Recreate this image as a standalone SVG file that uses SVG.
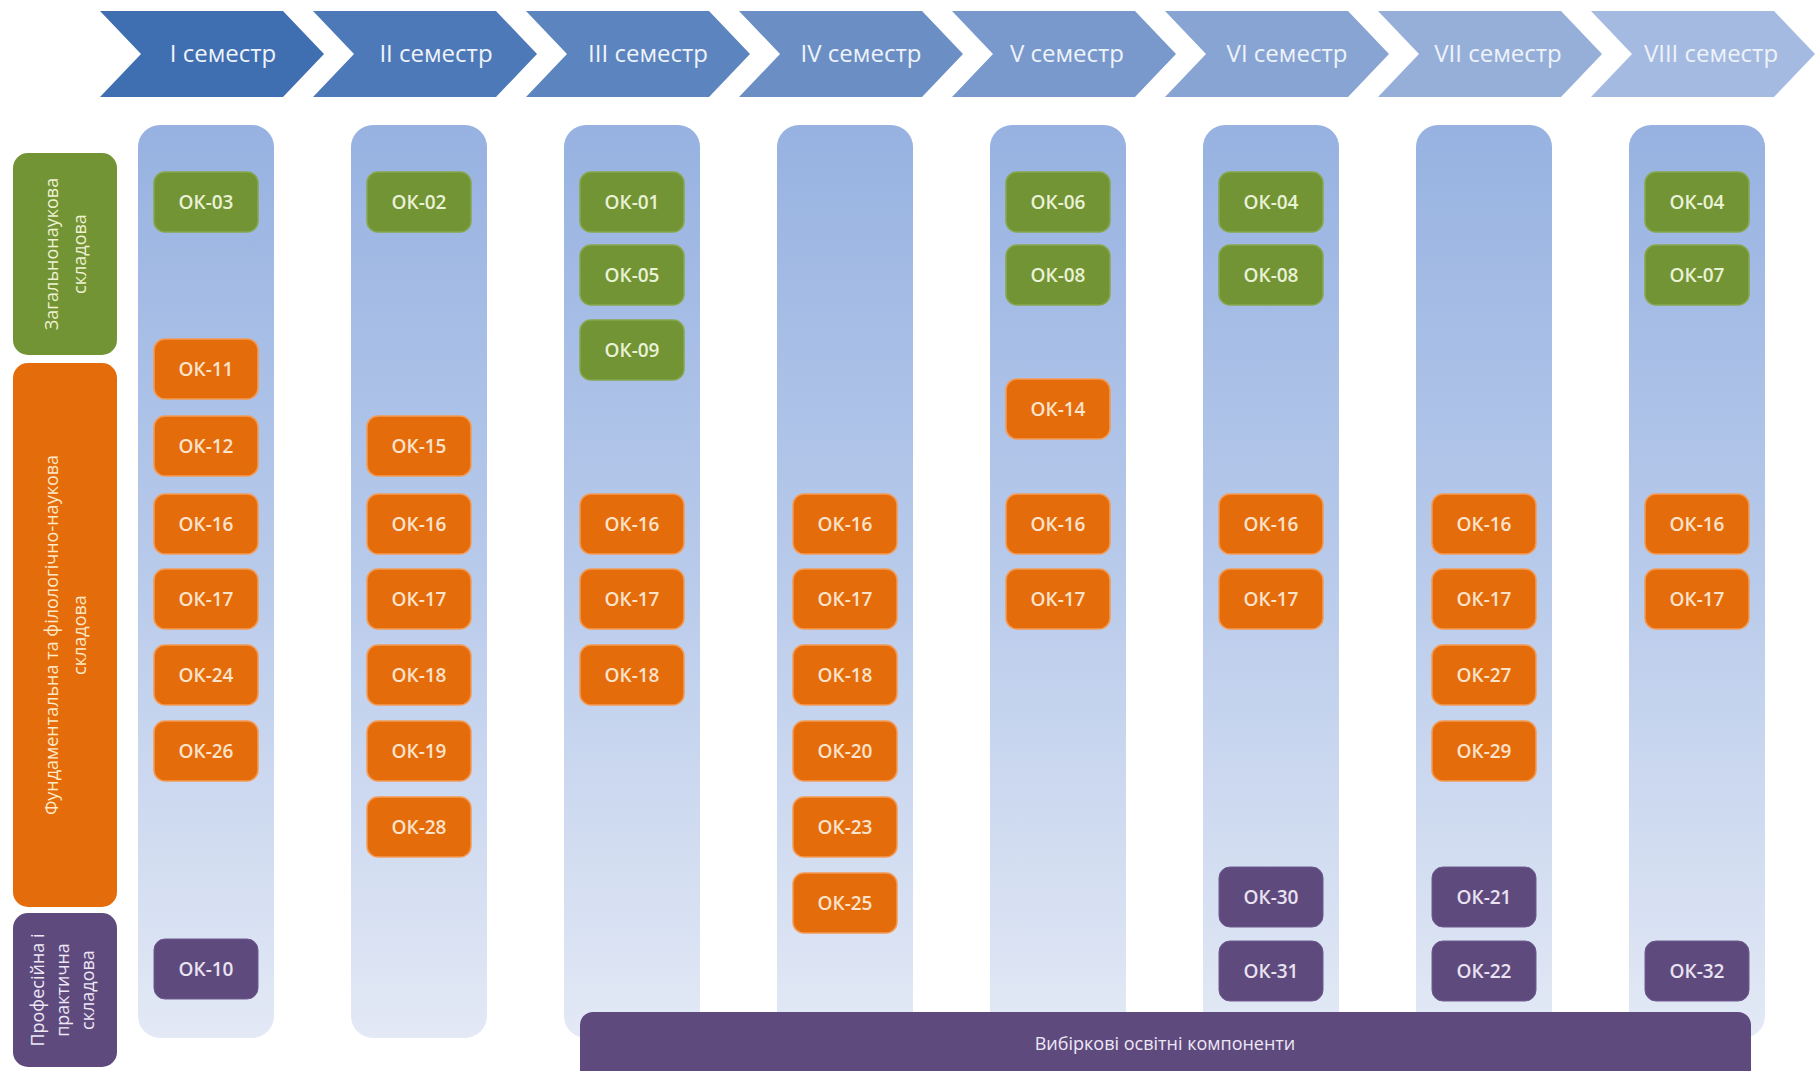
<svg xmlns="http://www.w3.org/2000/svg" width="1818" height="1071" viewBox="0 0 1818 1071">
<defs>
<linearGradient id="colg" x1="0" y1="0" x2="0" y2="1">
<stop offset="0" stop-color="#97B2E1"/>
<stop offset="0.5" stop-color="#B9CBEB"/>
<stop offset="1" stop-color="#E3E9F5"/>
</linearGradient>
<style>
.chev text{font-family:"Open Sans","Noto Sans",sans-serif;font-size:24px;fill:#EEF3FA;text-anchor:middle}
.col{fill:url(#colg)}
.b{width:104px;height:60px;rx:11px;ry:11px}
.g{fill:#739435;stroke:#86A64C;stroke-width:1.5}
.o{fill:#E56C0B;stroke:#F39A55;stroke-width:1.5}
.p{fill:#5F4A7E;stroke:#6E5A8E;stroke-width:1}
.t{font-family:"Open Sans","Noto Sans",sans-serif;font-size:19px;font-weight:600;text-anchor:middle}
.tg{fill:#EAF2D6}
.to{fill:#FCE3CC}
.tp{fill:#E9E3F1}
.lab{font-family:"Open Sans","Noto Sans",sans-serif;font-size:18px;text-anchor:middle}
</style>
</defs>
<rect width="1818" height="1071" fill="#FFFFFF"/>

<g id="semesters">
<g id="sem1" class="chev"><polygon points="100,11 283,11 324,54 283,97 100,97 141,54" fill="#3F6EB1"/><text x="223" y="62">I семестр</text></g>
<g id="sem2" class="chev"><polygon points="313,11 496,11 537,54 496,97 313,97 354,54" fill="#4E79B8"/><text x="436" y="62">II семестр</text></g>
<g id="sem3" class="chev"><polygon points="526,11 709,11 750,54 709,97 526,97 567,54" fill="#5C84BE"/><text x="648" y="62">III семестр</text></g>
<g id="sem4" class="chev"><polygon points="739,11 922,11 963,54 922,97 739,97 780,54" fill="#6B8FC5"/><text x="861" y="62">IV семестр</text></g>
<g id="sem5" class="chev"><polygon points="952,11 1135,11 1176,54 1135,97 952,97 993,54" fill="#7999CC"/><text x="1067" y="62">V семестр</text></g>
<g id="sem6" class="chev"><polygon points="1165,11 1348,11 1389,54 1348,97 1165,97 1206,54" fill="#88A4D3"/><text x="1287" y="62">VI семестр</text></g>
<g id="sem7" class="chev"><polygon points="1378,11 1561,11 1602,54 1561,97 1378,97 1419,54" fill="#96AFD9"/><text x="1498" y="62">VII семестр</text></g>
<g id="sem8" class="chev"><polygon points="1591,11 1774,11 1815,54 1774,97 1591,97 1632,54" fill="#A5BAE0"/><text x="1711" y="62">VIII семестр</text></g>
</g>

<g id="columns">
<rect id="col1" class="col" x="138" y="125" width="136" height="913" rx="22"/>
<rect id="col2" class="col" x="351" y="125" width="136" height="913" rx="22"/>
<rect id="col3" class="col" x="564" y="125" width="136" height="913" rx="22"/>
<rect id="col4" class="col" x="777" y="125" width="136" height="913" rx="22"/>
<rect id="col5" class="col" x="990" y="125" width="136" height="913" rx="22"/>
<rect id="col6" class="col" x="1203" y="125" width="136" height="913" rx="22"/>
<rect id="col7" class="col" x="1416" y="125" width="136" height="913" rx="22"/>
<rect id="col8" class="col" x="1629" y="125" width="136" height="913" rx="22"/>
</g>

<g id="labels">
<g id="lab-general"><rect x="13" y="153" width="104" height="202" rx="15" fill="#739435"/>
<text class="lab" fill="#EEF2D2" transform="rotate(-90 58 254)" x="58" y="254">Загальнонаукова</text>
<text class="lab" fill="#EEF2D2" transform="rotate(-90 86 254)" x="86" y="254">складова</text></g>
<g id="lab-fund"><rect x="13" y="363" width="104" height="544" rx="15" fill="#E56C0B"/>
<text class="lab" fill="#FCE9C8" transform="rotate(-90 58 635)" x="58" y="635">Фундаментальна та філологічно-наукова</text>
<text class="lab" fill="#FCE9C8" transform="rotate(-90 86 635)" x="86" y="635">складова</text></g>
<g id="lab-prof"><rect x="13" y="913" width="104" height="154" rx="15" fill="#5F4A7E"/>
<text class="lab" fill="#EDE7F5" transform="rotate(-90 44 990)" x="44" y="990">Професійна і</text>
<text class="lab" fill="#EDE7F5" transform="rotate(-90 69 990)" x="69" y="990">практична</text>
<text class="lab" fill="#EDE7F5" transform="rotate(-90 94 990)" x="94" y="990">складова</text></g>
</g>

<g id="s1">
<g id="s1-ok03"><rect class="b g" x="154" y="172" width="104" height="60" rx="11"/><text class="t tg" x="206" y="209">ОК-03</text></g>
<g id="s1-ok11"><rect class="b o" x="154" y="339" width="104" height="60" rx="11"/><text class="t to" x="206" y="376">ОК-11</text></g>
<g id="s1-ok12"><rect class="b o" x="154" y="416" width="104" height="60" rx="11"/><text class="t to" x="206" y="453">ОК-12</text></g>
<g id="s1-ok16"><rect class="b o" x="154" y="494" width="104" height="60" rx="11"/><text class="t to" x="206" y="531">ОК-16</text></g>
<g id="s1-ok17"><rect class="b o" x="154" y="569" width="104" height="60" rx="11"/><text class="t to" x="206" y="606">ОК-17</text></g>
<g id="s1-ok24"><rect class="b o" x="154" y="645" width="104" height="60" rx="11"/><text class="t to" x="206" y="682">ОК-24</text></g>
<g id="s1-ok26"><rect class="b o" x="154" y="721" width="104" height="60" rx="11"/><text class="t to" x="206" y="758">ОК-26</text></g>
<g id="s1-ok10"><rect class="b p" x="154" y="939" width="104" height="60" rx="11"/><text class="t tp" x="206" y="976">ОК-10</text></g>
</g>

<g id="s2">
<g id="s2-ok02"><rect class="b g" x="367" y="172" width="104" height="60" rx="11"/><text class="t tg" x="419" y="209">ОК-02</text></g>
<g id="s2-ok15"><rect class="b o" x="367" y="416" width="104" height="60" rx="11"/><text class="t to" x="419" y="453">ОК-15</text></g>
<g id="s2-ok16"><rect class="b o" x="367" y="494" width="104" height="60" rx="11"/><text class="t to" x="419" y="531">ОК-16</text></g>
<g id="s2-ok17"><rect class="b o" x="367" y="569" width="104" height="60" rx="11"/><text class="t to" x="419" y="606">ОК-17</text></g>
<g id="s2-ok18"><rect class="b o" x="367" y="645" width="104" height="60" rx="11"/><text class="t to" x="419" y="682">ОК-18</text></g>
<g id="s2-ok19"><rect class="b o" x="367" y="721" width="104" height="60" rx="11"/><text class="t to" x="419" y="758">ОК-19</text></g>
<g id="s2-ok28"><rect class="b o" x="367" y="797" width="104" height="60" rx="11"/><text class="t to" x="419" y="834">ОК-28</text></g>
</g>

<g id="s3">
<g id="s3-ok01"><rect class="b g" x="580" y="172" width="104" height="60" rx="11"/><text class="t tg" x="632" y="209">ОК-01</text></g>
<g id="s3-ok05"><rect class="b g" x="580" y="245" width="104" height="60" rx="11"/><text class="t tg" x="632" y="282">ОК-05</text></g>
<g id="s3-ok09"><rect class="b g" x="580" y="320" width="104" height="60" rx="11"/><text class="t tg" x="632" y="357">ОК-09</text></g>
<g id="s3-ok16"><rect class="b o" x="580" y="494" width="104" height="60" rx="11"/><text class="t to" x="632" y="531">ОК-16</text></g>
<g id="s3-ok17"><rect class="b o" x="580" y="569" width="104" height="60" rx="11"/><text class="t to" x="632" y="606">ОК-17</text></g>
<g id="s3-ok18"><rect class="b o" x="580" y="645" width="104" height="60" rx="11"/><text class="t to" x="632" y="682">ОК-18</text></g>
</g>

<g id="s4">
<g id="s4-ok16"><rect class="b o" x="793" y="494" width="104" height="60" rx="11"/><text class="t to" x="845" y="531">ОК-16</text></g>
<g id="s4-ok17"><rect class="b o" x="793" y="569" width="104" height="60" rx="11"/><text class="t to" x="845" y="606">ОК-17</text></g>
<g id="s4-ok18"><rect class="b o" x="793" y="645" width="104" height="60" rx="11"/><text class="t to" x="845" y="682">ОК-18</text></g>
<g id="s4-ok20"><rect class="b o" x="793" y="721" width="104" height="60" rx="11"/><text class="t to" x="845" y="758">ОК-20</text></g>
<g id="s4-ok23"><rect class="b o" x="793" y="797" width="104" height="60" rx="11"/><text class="t to" x="845" y="834">ОК-23</text></g>
<g id="s4-ok25"><rect class="b o" x="793" y="873" width="104" height="60" rx="11"/><text class="t to" x="845" y="910">ОК-25</text></g>
</g>

<g id="s5">
<g id="s5-ok06"><rect class="b g" x="1006" y="172" width="104" height="60" rx="11"/><text class="t tg" x="1058" y="209">ОК-06</text></g>
<g id="s5-ok08"><rect class="b g" x="1006" y="245" width="104" height="60" rx="11"/><text class="t tg" x="1058" y="282">ОК-08</text></g>
<g id="s5-ok14"><rect class="b o" x="1006" y="379" width="104" height="60" rx="11"/><text class="t to" x="1058" y="416">ОК-14</text></g>
<g id="s5-ok16"><rect class="b o" x="1006" y="494" width="104" height="60" rx="11"/><text class="t to" x="1058" y="531">ОК-16</text></g>
<g id="s5-ok17"><rect class="b o" x="1006" y="569" width="104" height="60" rx="11"/><text class="t to" x="1058" y="606">ОК-17</text></g>
</g>

<g id="s6">
<g id="s6-ok04"><rect class="b g" x="1219" y="172" width="104" height="60" rx="11"/><text class="t tg" x="1271" y="209">ОК-04</text></g>
<g id="s6-ok08"><rect class="b g" x="1219" y="245" width="104" height="60" rx="11"/><text class="t tg" x="1271" y="282">ОК-08</text></g>
<g id="s6-ok16"><rect class="b o" x="1219" y="494" width="104" height="60" rx="11"/><text class="t to" x="1271" y="531">ОК-16</text></g>
<g id="s6-ok17"><rect class="b o" x="1219" y="569" width="104" height="60" rx="11"/><text class="t to" x="1271" y="606">ОК-17</text></g>
<g id="s6-ok30"><rect class="b p" x="1219" y="867" width="104" height="60" rx="11"/><text class="t tp" x="1271" y="904">ОК-30</text></g>
<g id="s6-ok31"><rect class="b p" x="1219" y="941" width="104" height="60" rx="11"/><text class="t tp" x="1271" y="978">ОК-31</text></g>
</g>

<g id="s7">
<g id="s7-ok16"><rect class="b o" x="1432" y="494" width="104" height="60" rx="11"/><text class="t to" x="1484" y="531">ОК-16</text></g>
<g id="s7-ok17"><rect class="b o" x="1432" y="569" width="104" height="60" rx="11"/><text class="t to" x="1484" y="606">ОК-17</text></g>
<g id="s7-ok27"><rect class="b o" x="1432" y="645" width="104" height="60" rx="11"/><text class="t to" x="1484" y="682">ОК-27</text></g>
<g id="s7-ok29"><rect class="b o" x="1432" y="721" width="104" height="60" rx="11"/><text class="t to" x="1484" y="758">ОК-29</text></g>
<g id="s7-ok21"><rect class="b p" x="1432" y="867" width="104" height="60" rx="11"/><text class="t tp" x="1484" y="904">ОК-21</text></g>
<g id="s7-ok22"><rect class="b p" x="1432" y="941" width="104" height="60" rx="11"/><text class="t tp" x="1484" y="978">ОК-22</text></g>
</g>

<g id="s8">
<g id="s8-ok04"><rect class="b g" x="1645" y="172" width="104" height="60" rx="11"/><text class="t tg" x="1697" y="209">ОК-04</text></g>
<g id="s8-ok07"><rect class="b g" x="1645" y="245" width="104" height="60" rx="11"/><text class="t tg" x="1697" y="282">ОК-07</text></g>
<g id="s8-ok16"><rect class="b o" x="1645" y="494" width="104" height="60" rx="11"/><text class="t to" x="1697" y="531">ОК-16</text></g>
<g id="s8-ok17"><rect class="b o" x="1645" y="569" width="104" height="60" rx="11"/><text class="t to" x="1697" y="606">ОК-17</text></g>
<g id="s8-ok32"><rect class="b p" x="1645" y="941" width="104" height="60" rx="11"/><text class="t tp" x="1697" y="978">ОК-32</text></g>
</g>

<g id="electives">
<rect x="580" y="1012" width="1171" height="75" rx="13" fill="#5F4A7E"/>
<text x="1165" y="1050" font-family="Open Sans, Noto Sans, sans-serif" font-size="18" fill="#EDE7F5" text-anchor="middle">Вибіркові освітні компоненти</text>
</g>

<g id="connectors"></g>
</svg>
